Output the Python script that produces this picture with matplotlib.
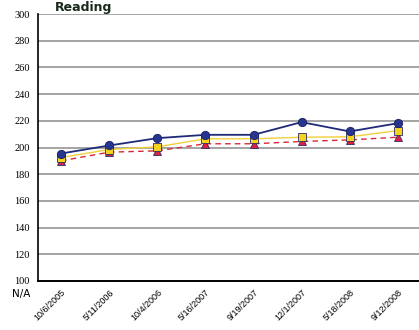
import matplotlib.pyplot as plt

# test dates and scores
dates = ["10/6/2005", "5/11/2006", "10/4/2006", "5/16/2007",
         "9/19/2007", "12/1/2007", "5/18/2008", "9/12/2008"]
student = [195.5, 201.5, 207, 209.5, 209.5, 219, 212, 218.2]
district = [192.5, 198.5, 200.5, 206.5, 206.5, 207.7, 208, 212.7]
norm = [190, 196.5, 197.5, 202.8, 202.8, 204.5, 205.7, 207.7]
yticks = [100, 120, 140, 160, 180, 200, 220, 240, 260, 280, 300]

fig = plt.figure(figsize=(4.19, 3.30), dpi=100)
ax = fig.add_axes([38 / 419, 1 - 281 / 330, 381 / 419, 267 / 330])

x = list(range(len(dates)))

for v in yticks[1:]:
    ax.axhline(v, color="#8c8c8c", lw=1.1, zorder=0)

ax.plot(x, norm, color="#d8283a", lw=1.0, ls=(0, (4, 3)), marker="^",
        ms=5.5, mfc="#e0203a", mec="#2a2a6a", mew=0.6, zorder=3)
ax.plot(x, district, color="#f2d03a", lw=1.0, marker="s",
        ms=5.5, mfc="#f5d21e", mec="#2a2a6a", mew=0.6, zorder=4)
ax.plot(x, student, color="#1f2a78", lw=1.3, marker="o",
        ms=6, mfc="#26358f", mec="#1a2060", mew=0.6, zorder=5)

ax.set_xlim(-0.48, 7.44)
ax.set_ylim(100, 300)
ax.set_yticks(yticks)
ax.set_yticklabels([str(v) for v in yticks], fontsize=7.5, family="Liberation Serif")
ax.set_xticks(x)
ax.set_xticklabels(dates, rotation=45, ha="right", rotation_mode="anchor",
                   fontsize=6.5, family="Liberation Sans")
ax.tick_params(length=0, pad=6)
ax.tick_params(axis="x", pad=5)

for s in ["top", "right"]:
    ax.spines[s].set_visible(False)
ax.spines["left"].set_linewidth(1.2)
ax.spines["bottom"].set_linewidth(1.4)

ax.text(-0.02, -0.048, "N/A", transform=ax.transAxes, ha="right", va="center",
        fontsize=7.5)
fig.text(55 / 419, 1 - 1 / 330, "Reading", fontsize=9, fontweight="bold",
         ha="left", va="top", color="#1a2a1a")

fig.savefig("out.png", dpi=100)
